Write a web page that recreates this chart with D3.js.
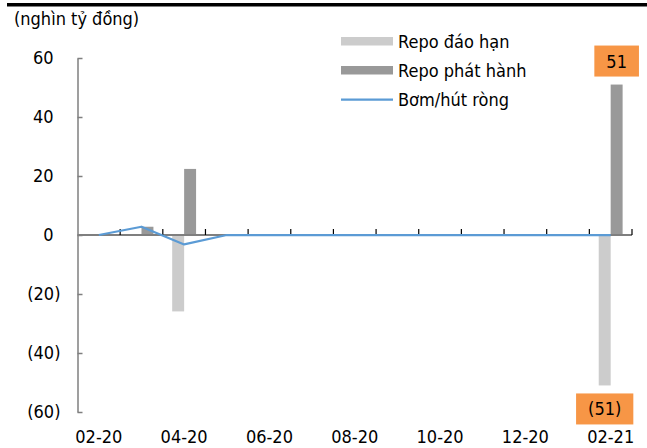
<!DOCTYPE html>
<html>
<head>
<meta charset="utf-8">
<script src="https://cdn.jsdelivr.net/npm/d3@7"></script>
<style>
  html, body { margin: 0; padding: 0; background: #fff; }
  svg { display: block; }
  text { font-family: "DejaVu Sans Condensed", "DejaVu Sans", sans-serif; font-stretch: condensed; fill: #000; }
</style>
</head>
<body>
<svg id="chart" width="647" height="448"></svg>
<script>
// Months shown on the category axis
const months = ["02-20","03-20","04-20","05-20","06-20","07-20","08-20","09-20","10-20","11-20","12-20","01-21","02-21"];
// Repo reaching maturity (drawn downward)
const repoMaturing = [0, 0, -25.9, 0, 0, 0, 0, 0, 0, 0, 0, 0, -51];
// Repo issued (drawn upward)
const repoIssued = [0, 2.8, 22.4, 0, 0, 0, 0, 0, 0, 0, 0, 0, 51];
// Net injection / withdrawal
const netFlow = [0, 2.8, -3.2, 0, 0, 0, 0, 0, 0, 0, 0, 0, 0];
// Value-axis ticks
const yTicks = [60, 40, 20, 0, -20, -40, -60];
// Category labels written under the axis
const xLabels = ["02-20","04-20","06-20","08-20","10-20","12-20","02-21"];
// Legend entries
const legendItems = [
  { name: "Repo đáo hạn", kind: "bar", color: "#cccccc" },
  { name: "Repo phát hành", kind: "bar", color: "#999999" },
  { name: "Bơm/hút ròng", kind: "line", color: "#5b9bd5" }
];
const unitLabel = "(nghìn tỷ đồng)";

const fmt = v => v < 0 ? `(${d3.format(",.0f")(-v)})` : d3.format(",.0f")(v);

const svg = d3.select("#chart");
const plot = { left: 77.5, right: 632, top: 58, bottom: 412 };

const x = d3.scaleBand().domain(months).range([plot.left, plot.right]);
const y = d3.scaleLinear().domain([-60, 60]).range([plot.bottom, plot.top]);
const bw = x.bandwidth();
const barW = bw * 0.28;
const cx = m => x(m) + bw / 2;

// Top rule
svg.append("rect").attr("x", 7).attr("y", 3).attr("width", 640).attr("height", 3.5).attr("fill", "#000");

// Unit label
svg.append("text").attr("x", 14).attr("y", 25).attr("font-size", 18).text(unitLabel);

// Value axis
const yAxis = svg.append("g")
  .attr("transform", `translate(${plot.left},0)`)
  .call(d3.axisLeft(y).tickValues(yTicks).tickFormat(fmt).tickSizeInner(-5).tickSizeOuter(0).tickPadding(17));
yAxis.select(".domain").attr("stroke", "#7f7f7f").attr("stroke-width", 1.5);
yAxis.selectAll(".tick line").attr("stroke", "#7f7f7f").attr("stroke-width", 1.5);
yAxis.selectAll(".tick text")
  .attr("font-size", 18)
  .attr("fill", "#000")
  .attr("font-family", null)
  .attr("x", d => d > 0 ? -24 : -17);
// left-aligned accounting style: positives leave room for ")"
yAxis.selectAll(".tick").filter(d => d === 0).select("text").attr("x", -24);

// Bars: maturing (left half of each month), issued (right half)
svg.append("g").selectAll("rect").data(months).join("rect")
  .attr("x", m => cx(m) - barW)
  .attr("width", barW)
  .attr("y", (m, i) => y(Math.max(0, repoMaturing[i])))
  .attr("height", (m, i) => Math.abs(y(repoMaturing[i]) - y(0)))
  .attr("fill", "#cccccc");
svg.append("g").selectAll("rect").data(months).join("rect")
  .attr("x", m => cx(m))
  .attr("width", barW)
  .attr("y", (m, i) => y(Math.max(0, repoIssued[i])))
  .attr("height", (m, i) => Math.abs(y(repoIssued[i]) - y(0)))
  .attr("fill", "#999999");

// Category axis line at zero with inward ticks on month boundaries
svg.append("line")
  .attr("x1", plot.left).attr("x2", plot.right)
  .attr("y1", y(0)).attr("y2", y(0))
  .attr("stroke", "#7f7f7f").attr("stroke-width", 2);
const bounds = months.map(m => x(m)).concat([x.range()[1]]);
svg.append("g").selectAll("line").data(bounds.slice(1)).join("line")
  .attr("x1", d => d).attr("x2", d => d)
  .attr("y1", y(0)).attr("y2", y(0) - 6)
  .attr("stroke", "#000").attr("stroke-width", 1.2);

// Net flow line
svg.append("path")
  .datum(months.map((m, i) => [cx(m), y(netFlow[i])]))
  .attr("d", d3.line())
  .attr("fill", "none")
  .attr("stroke", "#5b9bd5")
  .attr("stroke-width", 2.25)
  .attr("stroke-linejoin", "round");

// Category labels along the bottom
const xAxis = svg.append("g")
  .attr("transform", `translate(0,${plot.bottom})`)
  .call(d3.axisBottom(x).tickValues(xLabels).tickSize(0).tickPadding(18));
xAxis.select(".domain").remove();
xAxis.selectAll(".tick text").attr("font-size", 18).attr("fill", "#000");
xAxis.attr("font-family", null);
yAxis.attr("font-family", null);

// Value labels on the last month's bars
const last = months.length - 1;
const labelData = [
  { v: repoIssued[last], xc: cx(months[last]) + barW / 2 },
  { v: repoMaturing[last], xc: cx(months[last]) - barW / 2 }
];
const lbl = svg.append("g").selectAll("g").data(labelData).join("g");
lbl.each(function(d) {
  const g = d3.select(this);
  const t = g.append("text").attr("font-size", 18).attr("text-anchor", "middle").text(fmt(d.v));
  const w = t.node().getComputedTextLength() + 24;
  const h = 31;
  const top = d.v >= 0 ? y(d.v) - 8 - h : y(d.v) + 8;
  g.insert("rect", "text")
    .attr("x", d.xc - w / 2).attr("y", top)
    .attr("width", w).attr("height", h)
    .attr("fill", "#f79646");
  t.attr("x", d.xc).attr("y", top + h / 2).attr("dy", "0.36em");
});

// Legend
const leg = svg.append("g").attr("transform", "translate(341,41.5)");
legendItems.forEach((it, i) => {
  const g = leg.append("g").attr("transform", `translate(0,${i * 29})`);
  if (it.kind === "bar") {
    g.append("rect").attr("x", 0).attr("y", -4.5).attr("width", 52).attr("height", 8.5).attr("fill", it.color);
  } else {
    g.append("line").attr("x1", 0).attr("x2", 52).attr("y1", 0).attr("y2", 0)
      .attr("stroke", it.color).attr("stroke-width", 2.25);
  }
  g.append("text").attr("x", 57).attr("y", 0).attr("dy", "0.36em").attr("font-size", 18).text(it.name);
});
</script>
</body>
</html>
